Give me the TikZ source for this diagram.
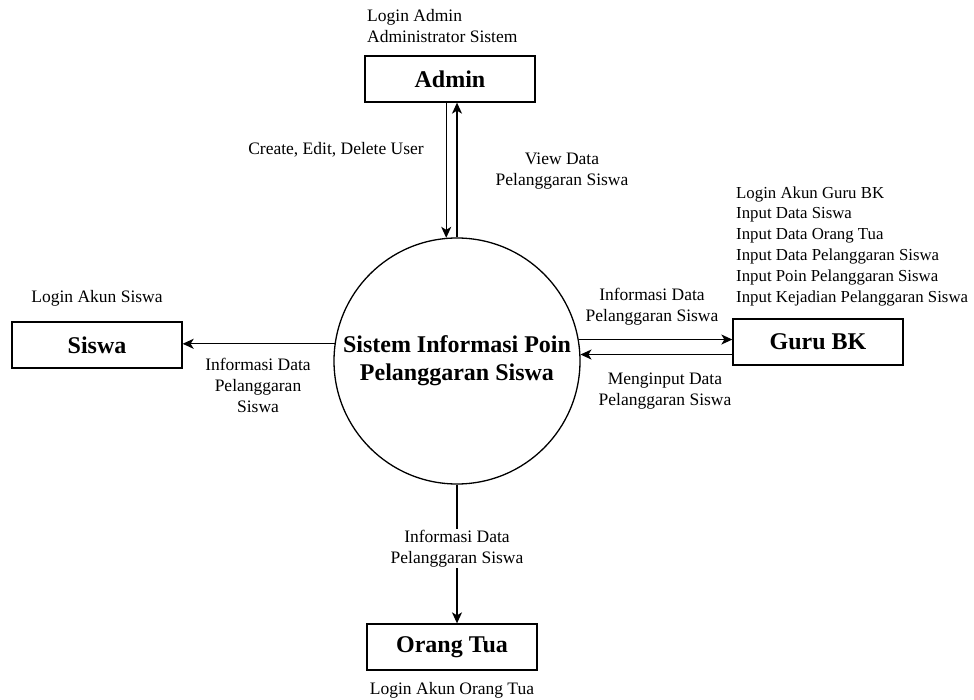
\documentclass[tikz,border=0pt]{standalone}
\usepackage{fontspec}
\setmainfont{Liberation Serif}
\usetikzlibrary{arrows.meta}
\begin{document}
\begin{tikzpicture}[x=1pt,y=-1pt,
                    entity/.style={draw,line width=1.3pt,minimum width=170pt,minimum height=46pt,inner sep=0pt,font=\fontsize{24}{28}\selectfont\bfseries},
                    proc/.style={draw,circle,line width=1.3pt,minimum size=246pt,inner sep=0pt,align=center,font=\fontsize{24}{28}\selectfont\bfseries},
                    lbl/.style={align=center,inner sep=1pt,font=\fontsize{17.5}{21}\selectfont},
                    flow/.style={line width=1.3pt,-{Stealth[length=11pt,width=10pt,inset=3pt]}}]
                    \useasboundingbox (0,0) rectangle (974,700);
                    \node[entity] (adm) at (450,79) {Admin};
                    \node[entity] (ssw) at (97,345) {Siswa};
                    \node[entity] (gbk) at (818,342) {Guru BK};
                    \node[entity] (ort) at (452,647) {Orang Tua};
                    \node[proc] (sis) at (457,361) {Sistem Informasi Poin\\Pelanggaran Siswa};
                    \node[lbl,align=left,anchor=west] (ladm) at (366,26) {Login Admin\\Administrator Sistem};
                    \node[lbl] (lcrt) at (336,150) {Create, Edit, Delete User};
                    \node[lbl] (lview) at (562,171) {View Data\\Pelanggaran Siswa};
                    \node[lbl,align=left,anchor=west,font=\fontsize{16.8}{20.8}\selectfont] (lgbk) at (735,246) {Login Akun Guru BK\\Input Data Siswa\\Input Data Orang Tua\\Input Data Pelanggaran Siswa\\Input Poin Pelanggaran Siswa\\Input Kejadian Pelanggaran Siswa};
                    \node[lbl] (linfg) at (652,307) {Informasi Data\\Pelanggaran Siswa};
                    \node[lbl] (lmgi) at (665,391) {Menginput Data\\Pelanggaran Siswa};
                    \node[lbl] (lssw) at (97,298) {Login Akun Siswa};
                    \node[lbl] (linfs) at (258,385) {Informasi Data\\Pelanggaran\\Siswa};
                    \node[lbl] (lort) at (452,690) {Login Akun Orang Tua};
                    \draw[flow] (adm.south -| sis.95) -- (sis.95);
                    \draw[flow] (sis.north) -- (sis.north |- adm.south);
                    \draw[flow] (sis.172.5) -- (sis.172.5 -| ssw.east);
                    \draw[flow] (sis.10.8) -- (sis.10.8 -| gbk.west);
                    \draw[flow] (sis.3.7 -| gbk.west) -- (sis.3.7);
                    \draw[flow] (sis.south) -- node[lbl,fill=white,pos=0.46] (linfo) {Informasi Data\\Pelanggaran Siswa} (sis.south |- ort.north);
                \end{tikzpicture}
\end{document}
